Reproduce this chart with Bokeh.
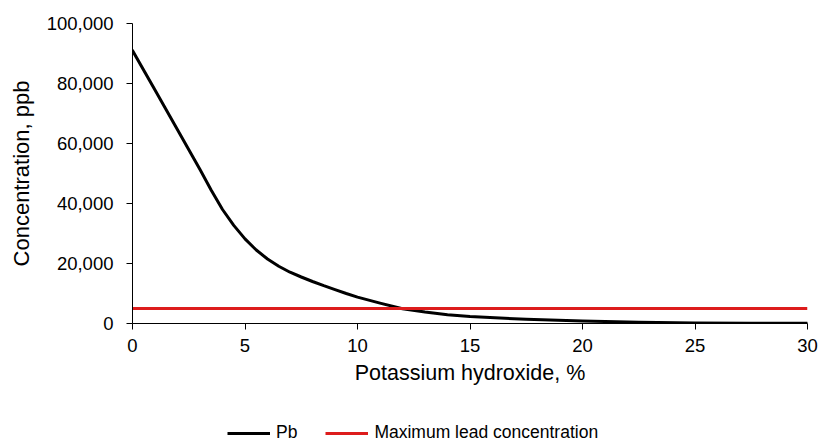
from bokeh.plotting import figure
from bokeh.layouts import column
from bokeh.models import Legend, LegendItem, FixedTicker, NumeralTickFormatter, Range1d
from bokeh.embed import file_html
from bokeh.resources import INLINE

# Data
koh_pct = [0, 1, 2, 3, 3.5, 4, 4.5, 5, 5.5, 6, 6.5, 7, 7.5, 8, 8.5, 9, 9.5, 10,
           11, 12, 13, 14, 15, 17.5, 20, 22.5, 25, 27.5, 30]
pb_ppb = [91000, 77800, 64600, 51300, 44400, 38000, 32700, 28200, 24500, 21500,
          19100, 17100, 15500, 14000, 12600, 11300, 10000, 8800,
          6800, 4900, 3800, 2900, 2300, 1400, 800, 450, 200, 100, 50]
limit_x = [0, 30]
limit_ppb = [5000, 5000]

x_ticks = [0, 5, 10, 15, 20, 25, 30]
y_ticks = [0, 20000, 40000, 60000, 80000, 100000]

series_names = ["Pb", "Maximum lead concentration"]
series_colors = ["black", "#dd1c1c"]

FONT = "Liberation Sans"

p = figure(width=819, height=410, output_backend="svg", toolbar_location=None,
           x_range=Range1d(0, 30), y_range=Range1d(0, 100000),
           min_border_left=132, min_border_right=12, min_border_top=23,
           min_border_bottom=87)
p.outline_line_color = None
p.grid.visible = False
p.background_fill_color = "white"
p.border_fill_color = "white"

p.line(koh_pct, pb_ppb, line_color=series_colors[0], line_width=3,
       line_join="round", line_cap="round")
p.line(limit_x, limit_ppb, line_color=series_colors[1], line_width=3)

for ax in (p.xaxis[0], p.yaxis[0]):
    ax.axis_line_color = "black"
    ax.major_tick_line_color = "black"
    ax.major_tick_out = 6
    ax.major_tick_in = 0
    ax.minor_tick_line_color = None
    ax.major_label_text_font = FONT
    ax.major_label_text_font_size = "18.5px"
    ax.major_label_text_color = "black"
    ax.axis_label_text_font = FONT
    ax.axis_label_text_font_style = "normal"
    ax.axis_label_text_color = "black"

p.xaxis[0].ticker = FixedTicker(ticks=x_ticks)
p.yaxis[0].ticker = FixedTicker(ticks=y_ticks)
p.yaxis[0].formatter = NumeralTickFormatter(format="0,0")

p.xaxis[0].axis_label = "Potassium hydroxide, %"
p.xaxis[0].axis_label_text_font_size = "21.5px"
p.xaxis[0].major_label_standoff = 9
p.xaxis[0].axis_label_standoff = 6

p.yaxis[0].axis_label = "Concentration, ppb"
p.yaxis[0].axis_label_text_font_size = "22px"
p.yaxis[0].major_label_standoff = 13
p.yaxis[0].axis_label_standoff = 10

# Legend strip under the chart; its key renderers hold a single point each,
# so they draw nothing themselves and only provide the legend swatches.
lg = figure(width=819, height=33, output_backend="svg", toolbar_location=None,
            x_axis_type=None, y_axis_type=None,
            min_border_left=0, min_border_right=0, min_border_top=0, min_border_bottom=0)
lg.outline_line_color = None
lg.grid.visible = False
lg.border_fill_color = "white"
keys = [
    lg.line(x=[koh_pct[0]], y=[pb_ppb[0]], line_color=series_colors[0], line_width=3),
    lg.line(x=[limit_x[0]], y=[limit_ppb[0]], line_color=series_colors[1], line_width=3),
]

legend = Legend(items=[LegendItem(label=n, renderers=[r]) for n, r in zip(series_names, keys)],
                orientation="horizontal", location=(95, 0),
                padding=0, margin=0, spacing=28, label_standoff=6,
                glyph_width=43, glyph_height=16, label_height=16,
                label_text_font=FONT, label_text_font_size="17.5px",
                label_text_color="black", border_line_color=None,
                background_fill_alpha=0)
lg.add_layout(legend, "center")

layout = column(p, lg, spacing=0)
open("out.html", "w").write(file_html(layout, INLINE))
